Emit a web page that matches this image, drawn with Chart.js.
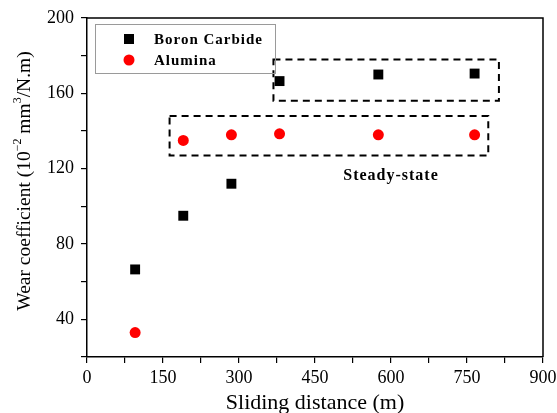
<!DOCTYPE html>
<html>
<head>
<meta charset="utf-8">
<script src="https://cdn.jsdelivr.net/npm/chart.js@4.4.1/dist/chart.umd.min.js"></script>
<style>
  html, body { margin: 0; padding: 0; background: #fff; }
  #wrap { width: 557px; height: 413px; }
</style>
</head>
<body>
<div id="wrap"><canvas id="wearChart" width="557" height="413"></canvas></div>
<script>
// Sliding distance (m) and wear coefficient (10^-2 mm^3/N.m)
const boronX = [95, 190, 285, 380, 575, 765];
const boronY = [66.5, 95, 112, 166.5, 170, 170.5];
const aluminaX = [95, 190, 285, 380, 575, 765];
const aluminaY = [33, 135, 138, 138.5, 138, 138];

const seriesNames = ['Boron Carbide', 'Alumina'];
const xTickStep = 75;
const yTickStep = 20;

// dashed steady-state regions, in data units [xFrom, xTo, yFrom, yTo]
const steadyBoxes = [
    [368, 813, 156, 178],
    [163, 792, 127, 148]
];
const steadyLabel = 'Steady-state';
const steadyLabelAt = [600, 116];

const serif = "'Liberation Serif', 'Times New Roman', serif";

const toPoints = (xs, ys) => xs.map((x, i) => ({ x: x, y: ys[i] }));

// frame, dashed boxes, annotation text, legend and rotated y title
const decorations = {
    id: 'decorations',
    afterDatasetsDraw(chart) {
        const ctx = chart.ctx;
        const area = chart.chartArea;
        const xs = chart.scales.x;
        const ys = chart.scales.y;

        ctx.save();
        // top and right frame lines
        ctx.strokeStyle = '#000';
        ctx.lineWidth = 1.5;
        ctx.beginPath();
        ctx.moveTo(area.left, area.top);
        ctx.lineTo(area.right, area.top);
        ctx.lineTo(area.right, area.bottom);
        ctx.stroke();

        // dashed boxes
        ctx.lineWidth = 2;
        ctx.setLineDash([7, 5]);
        steadyBoxes.forEach(b => {
            const x1 = xs.getPixelForValue(b[0]);
            const x2 = xs.getPixelForValue(b[1]);
            const y1 = ys.getPixelForValue(b[3]);
            const y2 = ys.getPixelForValue(b[2]);
            ctx.strokeRect(x1, y1, x2 - x1, y2 - y1);
        });
        ctx.setLineDash([]);

        // annotation
        ctx.fillStyle = '#000';
        ctx.font = 'bold 16px ' + serif;
        ctx.letterSpacing = '1px';
        ctx.textAlign = 'center';
        ctx.textBaseline = 'middle';
        ctx.fillText(steadyLabel, xs.getPixelForValue(steadyLabelAt[0]), ys.getPixelForValue(steadyLabelAt[1]));

        // legend box
        const lx = area.left + 8, ly = area.top + 6, lw = 180, lh = 49;
        ctx.strokeStyle = '#9a9a9a';
        ctx.lineWidth = 1;
        ctx.strokeRect(lx + 0.5, ly + 0.5, lw, lh);
        chart.data.datasets.forEach((ds, i) => {
            const cy = ly + 15 + i * 21;
            const cx = lx + 34;
            ctx.fillStyle = ds.backgroundColor;
            if (ds.pointStyle === 'rect') {
                ctx.fillRect(cx - 5, cy - 5, 10, 10);
            } else {
                ctx.beginPath();
                ctx.arc(cx, cy, 5.5, 0, Math.PI * 2);
                ctx.fill();
            }
            ctx.fillStyle = '#000';
            ctx.textAlign = 'left';
            ctx.font = 'bold 15px ' + serif;
            ctx.fillText(ds.label, lx + 59, cy + 1);
        });
        ctx.letterSpacing = '0px';

        // y title with superscripts
        const parts = [
            ['Wear coefficient (10', false],
            ['\u22122', true],
            [' mm', false],
            ['3', true],
            ['/N.m)', false]
        ];
        const big = '19.5px ' + serif, small = '12px ' + serif;
        let total = 0;
        parts.forEach(p => { ctx.font = p[1] ? small : big; total += ctx.measureText(p[0]).width; });
        ctx.translate(25, 181);
        ctx.rotate(-Math.PI / 2);
        ctx.textAlign = 'left';
        ctx.textBaseline = 'middle';
        let px = -total / 2;
        parts.forEach(p => {
            ctx.font = p[1] ? small : big;
            ctx.fillText(p[0], px, p[1] ? -7 : 0);
            px += ctx.measureText(p[0]).width;
        });
        ctx.restore();
    }
};

const wearCtx = document.getElementById('wearChart').getContext('2d');
new Chart(wearCtx, {
    type: 'scatter',
    data: {
        datasets: [
            {
                label: seriesNames[0],
                data: toPoints(boronX, boronY),
                pointStyle: 'rect',
                pointRadius: 7,
                pointHoverRadius: 7,
                backgroundColor: '#000000',
                borderWidth: 0
            },
            {
                label: seriesNames[1],
                data: toPoints(aluminaX, aluminaY),
                pointStyle: 'circle',
                pointRadius: 5.5,
                pointHoverRadius: 5.5,
                backgroundColor: '#ff0000',
                borderWidth: 0
            }
        ]
    },
    plugins: [decorations],
    options: {
        responsive: false,
        animation: false,
        layout: { padding: { top: 18, right: 14, left: 0, bottom: 0 } },
        plugins: {
            legend: { display: false },
            tooltip: { enabled: false }
        },
        scales: {
            x: {
                type: 'linear',
                min: 0,
                max: 900,
                afterFit: (scale) => {
                    scale.height = 56;
                    scale.paddingLeft = 0;
                    scale.paddingRight = 0;
                },
                border: { color: '#000', width: 1.5 },
                grid: { drawOnChartArea: false, color: '#000', tickLength: 6, lineWidth: 1.2 },
                ticks: {
                    stepSize: xTickStep,
                    autoSkip: false,
                    maxRotation: 0,
                    padding: 4,
                    color: '#000',
                    font: { family: serif, size: 18 },
                    callback: (v) => (v % 150 === 0 ? v : '')
                },
                title: {
                    display: true,
                    text: 'Sliding distance (m)',
                    color: '#000',
                    font: { family: serif, size: 22 },
                    padding: { top: 0, bottom: -3 }
                }
            },
            y: {
                type: 'linear',
                min: 20,
                max: 200,
                afterFit: (scale) => {
                    scale.width = 87;
                    scale.paddingTop = 0;
                    scale.paddingBottom = 0;
                },
                border: { color: '#000', width: 1.5 },
                grid: { drawOnChartArea: false, color: '#000', tickLength: 6, lineWidth: 1.2 },
                ticks: {
                    stepSize: yTickStep,
                    autoSkip: false,
                    padding: 7,
                    color: '#000',
                    font: { family: serif, size: 18 },
                    callback: (v) => (v % 40 === 0 ? v : '')
                }
            }
        }
    }
});
</script>
</body>
</html>
